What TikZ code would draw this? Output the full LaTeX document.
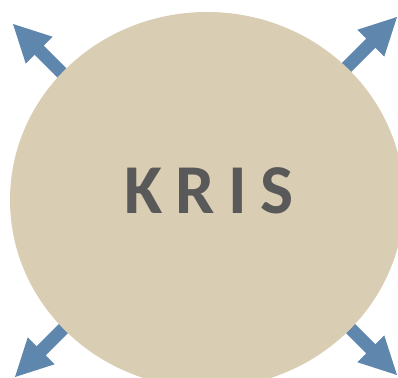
\documentclass[tikz,border=0pt]{standalone}
\usepackage{fontspec}
\newfontfamily\krisfont{Carlito}
\definecolor{beige}{HTML}{D9CEB3}
\definecolor{arrowblue}{HTML}{5F87AD}
\definecolor{txtgray}{HTML}{595959}
\tikzset{
  blockarrow/.style={fill=arrowblue, draw=none},
  disc/.style={fill=beige, draw=none},
  label/.style={font=\krisfont\bfseries\fontsize{70}{70}\selectfont, text=txtgray, inner sep=0pt}
}
\newcommand{\fatarrow}[3]{%
  \begin{scope}[shift={(#1,#2)}, rotate=#3]
    \fill[blockarrow] (0,0) -- (37,19) -- (37,6.5) -- (110,6.5) -- (110,-6.5) -- (37,-6.5) -- (37,-19) -- cycle;
  \end{scope}}
\begin{document}
\begin{tikzpicture}[x=1pt,y=-1pt]
  \useasboundingbox (0,0) rectangle (398,377);
  \clip (0,0) rectangle (398,377);
  \fatarrow{13}{24}{-45}
  \fatarrow{397}{17}{-135}
  \fatarrow{15}{377}{45}
  \fatarrow{397}{375}{135}
  \fill[disc] (207,200) ellipse [x radius=197, y radius=188];
  \node[label, anchor=base] (kris) at (209,213) {K\kern13.5pt R\kern13.5pt I\kern13.5pt S};
\end{tikzpicture}
\end{document}
